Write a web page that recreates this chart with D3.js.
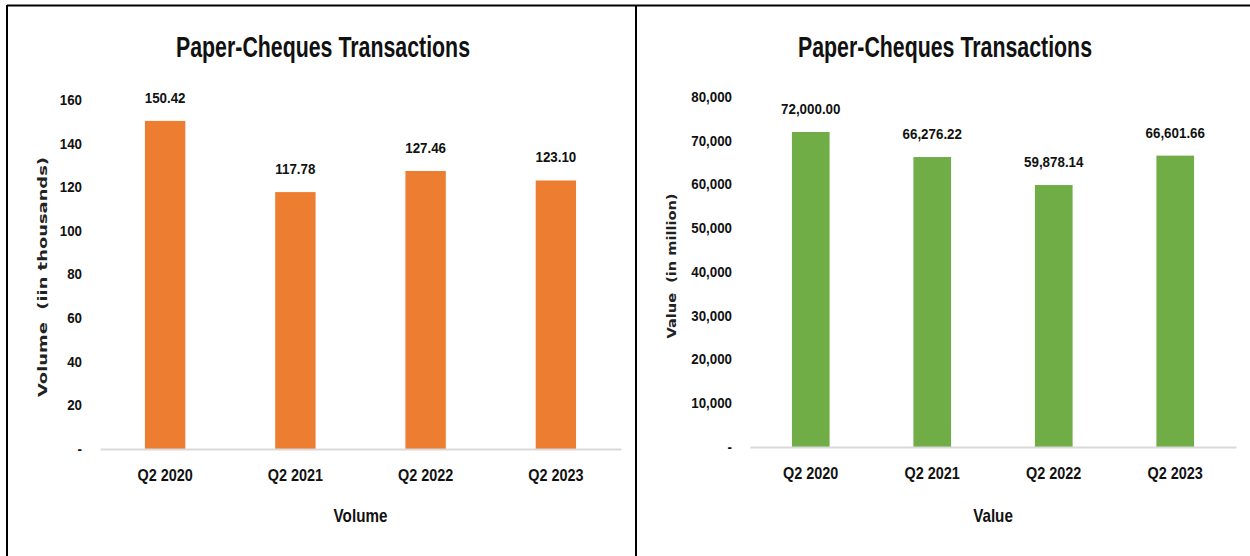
<!DOCTYPE html>
<html lang="en">
<head>
  <meta charset="UTF-8">
  <title>Paper-Cheques Transactions</title>
  <style>
    html, body {
      background: #ffffff;
      margin: 0px;
      width: 100%;
      height: 100%;
      overflow: hidden;
    }
    #container {
      position: absolute;
      left: 0px;
      top: 0px;
    }
    text {
      fill: #111;
    }
  </style>
</head>
<body>
<div id="container"></div>

<script src="https://cdnjs.cloudflare.com/ajax/libs/d3/7.8.5/d3.min.js"></script>
<script>

    // ---- data ----
    var quarters = ["Q2 2020", "Q2 2021", "Q2 2022", "Q2 2023"];
    var volumeValues = [150.42, 117.78, 127.46, 123.10];
    var valueValues = [72000.00, 66276.22, 59878.14, 66601.66];
    var volumeTicks = [0, 20, 40, 60, 80, 100, 120, 140, 160];
    var valueTicks = [0, 10000, 20000, 30000, 40000, 50000, 60000, 70000, 80000];

    var narrow = '"Liberation Sans", Arial, sans-serif';
    var wide = '"DejaVu Sans", Verdana, sans-serif';

    var W = 1250, H = 556;

    var svg = d3.select('#container').append('svg')
        .attr('width', W)
        .attr('height', H);

    // squeeze text horizontally (Calibri-like look)
    function condense(sel, k) {
        sel.each(function() {
            var len = this.getComputedTextLength();
            d3.select(this)
                .attr('textLength', len * k)
                .attr('lengthAdjust', 'spacingAndGlyphs');
        });
    }

    // frame lines
    svg.append('line').attr('x1', 7).attr('x2', W).attr('y1', 5.5).attr('y2', 5.5)
        .style('stroke', '#000').style('stroke-width', 2);
    svg.append('line').attr('x1', 7).attr('x2', 7).attr('y1', 5).attr('y2', H)
        .style('stroke', '#000').style('stroke-width', 2);
    svg.append('line').attr('x1', 636).attr('x2', 636).attr('y1', 5).attr('y2', H)
        .style('stroke', '#000').style('stroke-width', 2);

    function drawPanel(p) {
        var g = svg.append('g');

        var x = d3.scaleBand()
            .domain(quarters)
            .range([p.left, p.right])
            .paddingInner(0.69)
            .paddingOuter(0.345);

        var y = d3.scaleLinear()
            .domain([0, p.ticks[p.ticks.length - 1]])
            .range([p.bottom, p.top]);

        // title
        g.append('text')
            .attr('x', p.titleX)
            .attr('y', 57)
            .attr('text-anchor', 'middle')
            .attr('textLength', 294)
            .attr('lengthAdjust', 'spacingAndGlyphs')
            .style('font-family', narrow)
            .style('font-weight', 'bold')
            .style('font-size', '29px')
            .text('Paper-Cheques Transactions');

        // y axis (labels only)
        var yAxis = d3.axisLeft(y)
            .tickValues(p.ticks)
            .tickSize(0)
            .tickPadding(18)
            .tickFormat(d => d === 0 ? '-' : p.fmt(d));

        g.append('g')
            .attr('transform', 'translate(' + p.left + ',0)')
            .call(yAxis)
            .call(a => a.select('.domain').remove())
            .selectAll('text')
            .style('font-family', narrow)
            .style('font-weight', 'bold')
            .style('font-size', '14px')
            .style('fill', '#111')
            .call(condense, 0.95);

        // bars
        g.selectAll('rect.bar')
            .data(p.values)
            .enter()
            .append('rect')
            .attr('class', 'bar')
            .attr('x', (d, i) => x(quarters[i]))
            .attr('width', x.bandwidth())
            .attr('y', d => y(d))
            .attr('height', d => y(0) - y(d))
            .style('fill', p.color);

        // value labels
        g.selectAll('text.lbl')
            .data(p.values)
            .enter()
            .append('text')
            .attr('class', 'lbl')
            .attr('x', (d, i) => x(quarters[i]) + x.bandwidth() / 2)
            .attr('y', d => y(d) - 18)
            .attr('text-anchor', 'middle')
            .style('font-family', narrow)
            .style('font-weight', 'bold')
            .style('font-size', '15px')
            .text(d => p.labelFmt(d))
            .call(condense, 0.89);

        // x axis
        var xAxis = d3.axisBottom(x).tickSize(0).tickSizeOuter(0);
        var xa = g.append('g')
            .attr('transform', 'translate(0,' + p.bottom + ')')
            .call(xAxis);
        xa.select('.domain')
            .style('stroke', '#d9d9d9')
            .style('stroke-width', 2);
        xa.selectAll('text')
            .attr('y', 32)
            .attr('dy', 0)
            .style('font-family', narrow)
            .style('font-weight', 'bold')
            .style('font-size', '16px')
            .style('fill', '#111')
            .call(condense, 0.9);

        // x axis title
        g.append('text')
            .attr('x', (p.left + p.right) / 2)
            .attr('y', 522)
            .attr('text-anchor', 'middle')
            .style('font-family', narrow)
            .style('font-weight', 'bold')
            .style('font-size', '19px')
            .text(p.xTitle)
            .call(condense, 0.8);

        // y axis title
        g.append('text')
            .attr('transform', 'translate(' + p.yTitleX + ',' + p.yTitleY + ') rotate(-90)')
            .attr('text-anchor', 'middle')
            .attr('textLength', p.yTitleLen)
            .attr('lengthAdjust', 'spacingAndGlyphs')
            .style('white-space', 'pre')
            .style('font-family', wide)
            .style('font-weight', 'bold')
            .style('font-size', '13px')
            .style('fill', '#222')
            .text(p.yTitle);
    }

    drawPanel({
        left: 100, right: 621, top: 100, bottom: 449,
        values: volumeValues,
        ticks: volumeTicks,
        fmt: d3.format('d'),
        labelFmt: d3.format('.2f'),
        color: '#ED7D31',
        titleX: 323,
        xTitle: 'Volume',
        yTitle: 'Volume  (iin thousands)',
        yTitleX: 47, yTitleY: 277, yTitleLen: 240
    });

    drawPanel({
        left: 750, right: 1236, top: 97, bottom: 447,
        values: valueValues,
        ticks: valueTicks,
        fmt: d3.format(','),
        labelFmt: d3.format(',.2f'),
        color: '#70AD47',
        titleX: 945,
        xTitle: 'Value',
        yTitle: 'Value  (in million)',
        yTitleX: 676, yTitleY: 266, yTitleLen: 145
    });

</script>
</body>
</html>
